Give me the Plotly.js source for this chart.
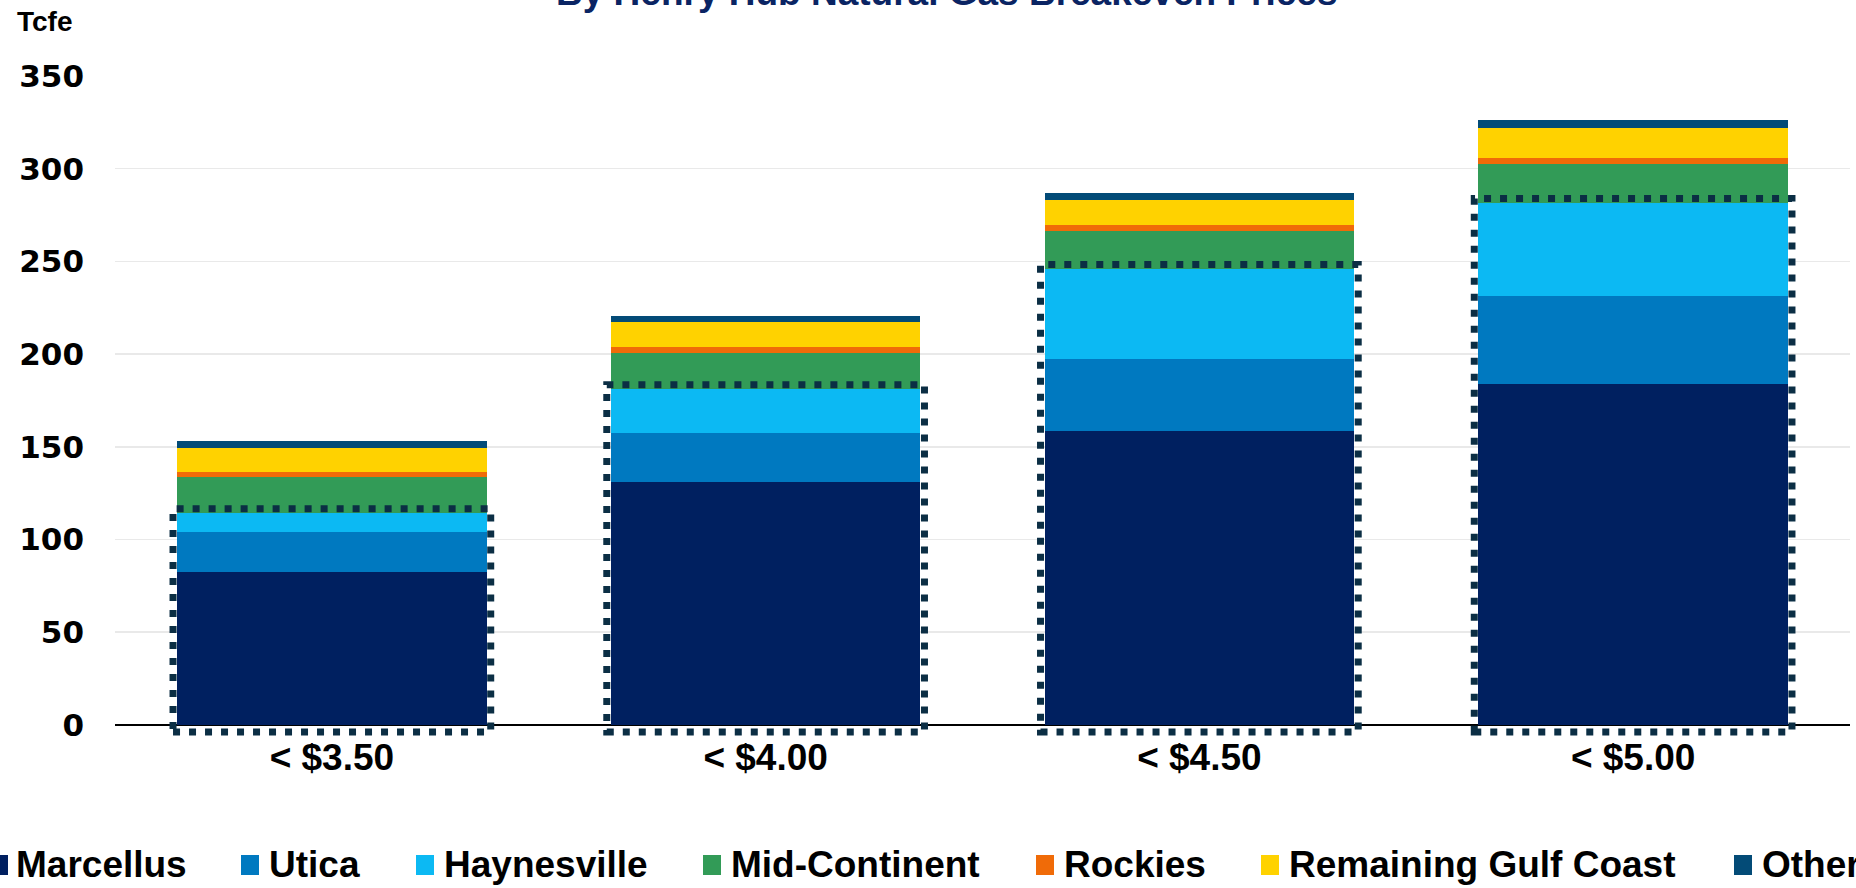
<!DOCTYPE html>
<html>
<head>
<meta charset="utf-8">
<script src="https://cdn.plot.ly/plotly-3.0.1.min.js"></script>
<style>html,body{margin:0;padding:0;background:#fff;}#chart{width:1856px;height:888px;}</style>
</head>
<body>
<div id="chart"></div>
<script>
// ---- data ----
const categories = ['< $3.50', '< $4.00', '< $4.50', '< $5.00'];
const seriesNames = ['Marcellus', 'Utica', 'Haynesville', 'Mid-Continent', 'Rockies', 'Remaining Gulf Coast', 'Other'];
const marcellus = [82.4, 131.2, 158.6, 184.0];
const utica = [21.6, 26.4, 38.7, 47.3];
const haynesville = [10.4, 23.7, 48.8, 50.4];
const midContinent = [19.3, 19.5, 20.2, 20.8];
const rockies = [2.5, 2.8, 3.1, 3.4];
const remainingGulfCoast = [13.3, 13.7, 13.9, 16.0];
const other = [3.6, 3.4, 3.7, 4.1];
const yTicks = [0, 50, 100, 150, 200, 250, 300, 350];
const titleText = 'By Henry Hub Natural Gas Breakeven Prices';
const unitText = 'Tcfe';

// ---- styles / layout constants ----
const colors = ['#002060', '#0079C0', '#0CB9F3', '#329B57', '#F06B08', '#FFD200', '#034B77'];
const W = 1856, H = 888, L = 115, R = 6, T = 76, B = 152;
const PW = W - L - R, PH = H - T - B;
const px2x = p => (p - L) / PW;
const px2y = p => (H - B - p) / PH;
const legendMarkerLeft = [-10, 241, 416, 703, 1036, 1261, 1734];
const dottedColor = '#0B2E44';

const seriesValues = [marcellus, utica, haynesville, midContinent, rockies, remainingGulfCoast, other];

const traces = seriesValues.map((vals, i) => ({
  type: 'bar',
  name: seriesNames[i],
  x: categories,
  y: vals,
  marker: {color: colors[i], line: {width: 0}},
  showlegend: false,
  hoverinfo: 'skip'
}));

const barGap = 0.286;
const barW = 1 - barGap;
const padX = 4 / (PW / categories.length);
const padTop = 2.2;
const shapes = [];
categories.forEach((c, i) => {
  const base = marcellus[i] + utica[i] + haynesville[i];
  shapes.push({
    type: 'rect', xref: 'x', yref: 'y',
    x0: i - barW / 2 - padX, x1: i + barW / 2 + padX,
    y0: -3.8, y1: base + padTop,
    line: {color: dottedColor, width: 7, dash: '7px,9px'},
    fillcolor: 'rgba(0,0,0,0)', layer: 'above'
  });
});

const annotations = [
  {text: titleText, xref: 'paper', yref: 'paper', x: px2x(946), y: px2y(15), xanchor: 'center', yanchor: 'bottom',
   showarrow: false, font: {family: 'Liberation Sans, Arial', size: 37, color: '#0A2463', weight: 'bold'}},
  {text: unitText, xref: 'paper', yref: 'paper', x: px2x(15), y: px2y(21), xanchor: 'left', yanchor: 'middle',
   showarrow: false, font: {family: 'Liberation Sans, Arial', size: 28, color: '#000', weight: 'bold'}}
];

// manual legend (one row, wider than the page like the reference)
seriesNames.forEach((n, i) => {
  const mx = legendMarkerLeft[i];
  shapes.push({type: 'rect', xref: 'paper', yref: 'paper',
    x0: px2x(mx), x1: px2x(mx + 18), y0: px2y(875), y1: px2y(855),
    line: {width: 0}, fillcolor: colors[i]});
  annotations.push({text: n, xref: 'paper', yref: 'paper', x: px2x(mx + (i === 0 ? 24 : 26)), y: px2y(864),
    xanchor: 'left', yanchor: 'middle', showarrow: false,
    font: {family: 'Liberation Sans, Arial', size: 37, color: '#000', weight: 'bold'}});
});

const layout = {
  width: W, height: H,
  margin: {l: L, r: R, t: T, b: B, pad: 0},
  paper_bgcolor: '#fff', plot_bgcolor: '#fff',
  barmode: 'stack', bargap: barGap,
  showlegend: false,
  xaxis: {
    type: 'category', categoryorder: 'array', categoryarray: categories,
    anchor: 'free', position: 10 / PH,
    showgrid: false, showline: false, zeroline: false, ticks: '',
    tickfont: {family: 'Liberation Sans, Arial', size: 37, color: '#000', weight: 'bold'},
    ticklabelstandoff: 6
  },
  yaxis: {
    range: [-6, 350], tickvals: yTicks, ticktext: yTicks.map(String),
    showgrid: true, gridcolor: '#e9e9e9', gridwidth: 1.5,
    zeroline: true, zerolinecolor: '#000', zerolinewidth: 2.5,
    showline: false, ticks: '',
    tickfont: {family: 'DejaVu Sans', size: 31, color: '#000', weight: 'bold'},
    ticklabelstandoff: 30
  },
  shapes: shapes,
  annotations: annotations
};

Plotly.newPlot('chart', traces, layout, {displayModeBar: false, staticPlot: true});
</script>
</body>
</html>
